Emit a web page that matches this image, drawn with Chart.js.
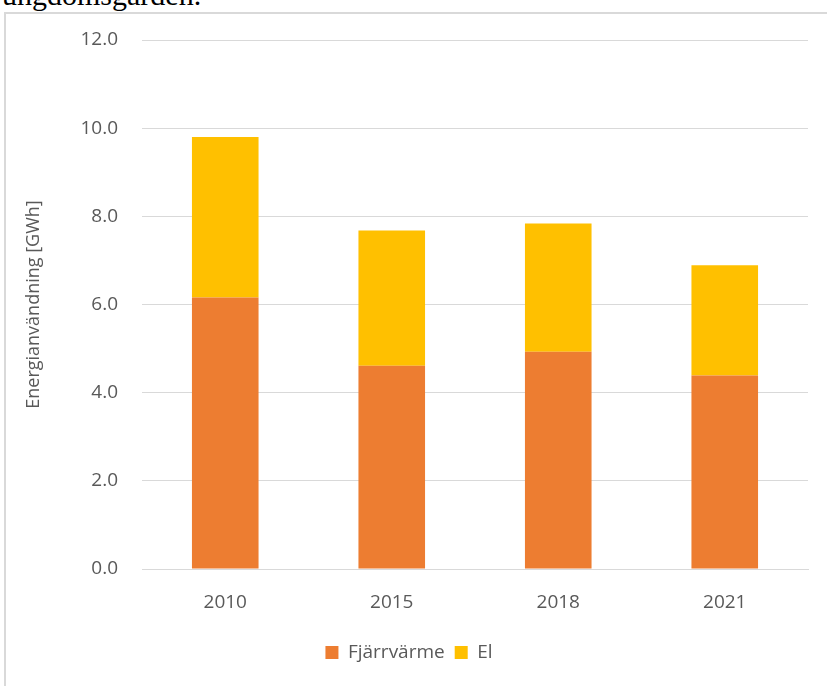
<!DOCTYPE html>
<html>
<head>
<meta charset="utf-8">
<script src="https://cdn.jsdelivr.net/npm/chart.js@4.4.1/dist/chart.umd.min.js"></script>
<style>
  body { margin: 0; background: #ffffff; }
  #wrap { position: relative; width: 827px; height: 686px; overflow: hidden; }
  #caption { position: absolute; left: 2px; top: -20px; font-family: "Liberation Serif", serif; font-size: 30px; line-height: 30px; color: #000; }
  #frame { position: absolute; left: 4px; top: 12px; width: 840px; height: 700px; border-left: 2px solid #d9d9d9; border-top: 2px solid #d9d9d9; }
  #holder { position: absolute; left: 0; top: 0; width: 827px; height: 686px; }
</style>
</head>
<body>
<div id="wrap">
  <div id="caption">ungdomsgården.</div>
  <div id="frame"></div>
  <div id="holder"><canvas id="energyChart"></canvas></div>
</div>
<script>
// Years on the x axis
const years = ['2010', '2015', '2018', '2021'];
// Energy use per year, GWh
const fjarrvarme = [6.16, 4.61, 4.93, 4.39];
const el = [3.64, 3.07, 2.91, 2.50];

const textColor = '#595959';
const fontFamily = '"Open Sans", sans-serif';

const ctx = document.getElementById('energyChart').getContext('2d');

let myChart = new Chart(ctx, {
    type: 'bar',
    data: {
        labels: years,
        datasets: [{
            label: 'Fjärrvärme',
            data: fjarrvarme,
            backgroundColor: '#ED7D31',
            barPercentage: 0.4,
            categoryPercentage: 1
        }, {
            label: 'El',
            data: el,
            backgroundColor: '#FFC000',
            barPercentage: 0.4,
            categoryPercentage: 1
        }]
    },
    options: {
        responsive: true,
        maintainAspectRatio: false,
        animation: false,
        layout: {
            padding: { left: 10, right: 19, top: 40, bottom: 14 }
        },
        scales: {
            x: {
                stacked: true,
                grid: { display: false },
                border: { display: true, color: '#d9d9d9', width: 1 },
                ticks: {
                    color: textColor,
                    padding: 14,
                    font: { family: fontFamily, size: 19 }
                },
                afterFit: scale => { scale.height = 64; }
            },
            y: {
                stacked: true,
                min: 0,
                max: 12,
                grid: { color: '#d9d9d9', drawTicks: false },
                border: { display: false },
                ticks: {
                    stepSize: 2,
                    color: textColor,
                    padding: 24,
                    font: { family: fontFamily, size: 19 },
                    callback: value => value.toFixed(1)
                },
                title: {
                    display: true,
                    text: 'Energianvändning [GWh]',
                    color: textColor,
                    padding: { top: 13, bottom: 0 },
                    font: { family: fontFamily, size: 18 }
                },
                afterFit: scale => { scale.width = 132; }
            }
        },
        plugins: {
            legend: {
                position: 'bottom',
                labels: {
                    color: textColor,
                    boxWidth: 13,
                    boxHeight: 13,
                    padding: 10,
                    font: { family: fontFamily, size: 19 }
                }
            },
            tooltip: { enabled: false }
        }
    }
});
</script>
</body>
</html>
